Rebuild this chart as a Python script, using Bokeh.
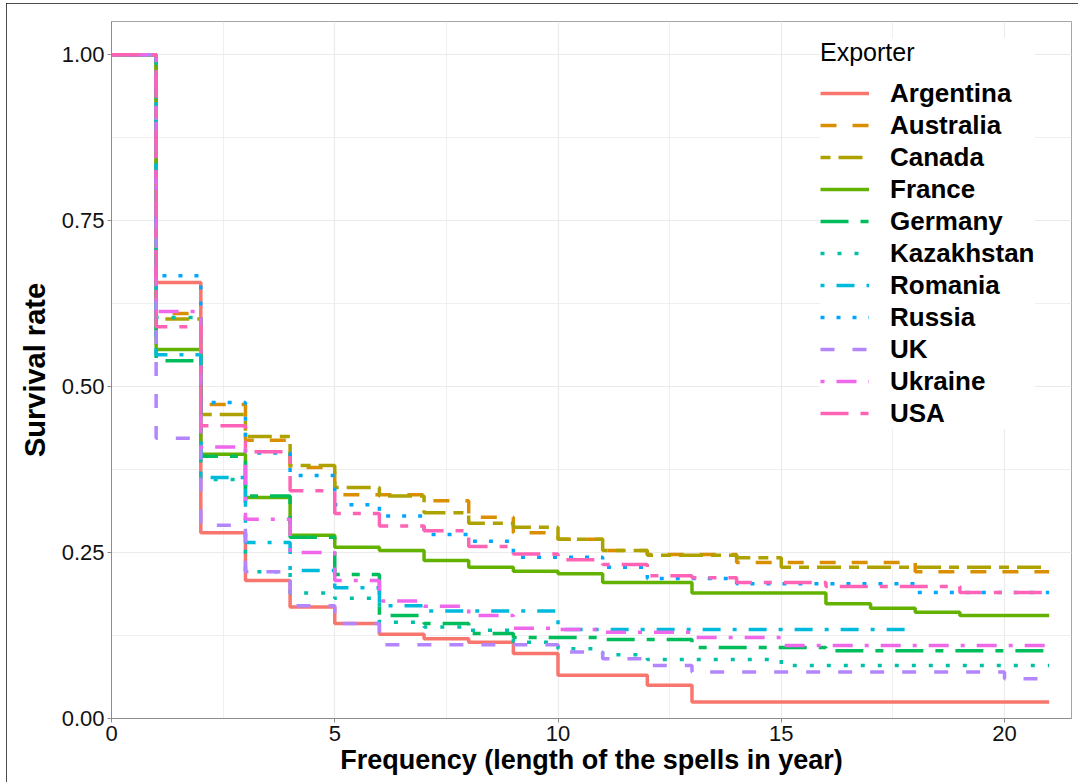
from bokeh.plotting import figure
from bokeh.models import Range1d, SingleIntervalTicker, Legend, LegendItem, NumeralTickFormatter
from bokeh.embed import file_html
from bokeh.resources import INLINE

# Kaplan-Meier style survival of export spells, one value per year interval [t, t+1)
years = list(range(0, 22))

exporters = ["Argentina", "Australia", "Canada", "France", "Germany", "Kazakhstan",
             "Romania", "Russia", "UK", "Ukraine", "USA"]

argentina = [1.0, 0.657, 0.280, 0.208, 0.168, 0.143, 0.127, 0.120, 0.115, 0.098, 0.065,
             0.065, 0.050, 0.025, 0.025, 0.025, 0.025, 0.025, 0.025, 0.025, 0.025]
australia = [1.0, 0.610, 0.473, 0.419, 0.378, 0.337, 0.337, 0.328, 0.303, 0.280, 0.270,
             0.253, 0.247, 0.247, 0.235, 0.235, 0.235, 0.235, 0.221, 0.221, 0.221]
canada = [1.0, 0.602, 0.458, 0.425, 0.381, 0.348, 0.335, 0.310, 0.294, 0.288, 0.270,
          0.253, 0.246, 0.246, 0.242, 0.228, 0.228, 0.228, 0.228, 0.228, 0.228]
france = [1.0, 0.556, 0.398, 0.333, 0.276, 0.258, 0.253, 0.238, 0.228, 0.222, 0.218,
          0.205, 0.205, 0.189, 0.189, 0.189, 0.173, 0.166, 0.160, 0.155, 0.155]
germany = [1.0, 0.539, 0.395, 0.335, 0.273, 0.217, 0.155, 0.143, 0.128, 0.122, 0.122,
           0.119, 0.119, 0.107, 0.107, 0.107, 0.102, 0.102, 0.102, 0.102, 0.102]
kazakhstan = [1.0, 0.604, 0.360, 0.221, 0.189, 0.181, 0.145, 0.138, 0.133, 0.115, 0.105,
              0.096, 0.089, 0.089, 0.089, 0.080, 0.080, 0.080, 0.080, 0.080, 0.080]
romania = [1.0, 0.548, 0.363, 0.265, 0.223, 0.197, 0.170, 0.162, 0.162, 0.162, 0.134,
           0.134, 0.134, 0.134, 0.134, 0.134, 0.134, 0.134]
russia = [1.0, 0.667, 0.476, 0.400, 0.366, 0.322, 0.305, 0.277, 0.267, 0.243, 0.243,
          0.228, 0.211, 0.211, 0.203, 0.203, 0.203, 0.203, 0.190, 0.190, 0.190]
uk = [1.0, 0.422, 0.291, 0.221, 0.170, 0.143, 0.111, 0.111, 0.111, 0.111, 0.100,
      0.090, 0.080, 0.070, 0.070, 0.070, 0.070, 0.070, 0.070, 0.070, 0.060]
ukraine = [1.0, 0.613, 0.409, 0.300, 0.250, 0.208, 0.177, 0.169, 0.155, 0.136, 0.134,
           0.130, 0.130, 0.122, 0.122, 0.110, 0.110, 0.110, 0.110, 0.110, 0.110]
usa = [1.0, 0.590, 0.441, 0.402, 0.343, 0.309, 0.290, 0.283, 0.259, 0.248, 0.239,
       0.232, 0.215, 0.212, 0.205, 0.205, 0.199, 0.199, 0.199, 0.190, 0.190]

series = [argentina, australia, canada, france, germany, kazakhstan,
          romania, russia, uk, ukraine, usa]

colors = ["#F8766D", "#DB8E00", "#AEA200", "#64B200", "#00BD5C", "#00C1A7",
          "#00BADE", "#00A6FF", "#B385FF", "#EF67EB", "#FF63B6"]
dashes = ["solid", "16 16", "10 8 24 8", "solid", "28 12 8 12", "4 13",
          "4 12 18 12", "4 12", "14 18", "4 12 20 12", "28 12 8 12"]

FONT = "Liberation Sans"

p = figure(width=1072, height=779, output_backend="svg", toolbar_location=None,
           x_range=Range1d(0, 21.5), y_range=Range1d(0, 1.05),
           min_border_left=105, min_border_right=7, min_border_top=18, min_border_bottom=64)
p.margin = (3, 0, 0, 6)
p.styles = {"outline": "1.5px solid #111111", "outline-offset": "-1px"}

p.background_fill_color = "white"
p.border_fill_color = "white"
p.outline_line_color = "#a6a6a6"
p.outline_line_width = 1

items = []
for name, vals, col, dash in zip(exporters, series, colors, dashes):
    xs = years[:len(vals) + 1]
    ys = vals + [vals[-1]]
    r = p.step(xs, ys, mode="after", line_color=col, line_width=3.5, line_dash=dash)
    items.append(LegendItem(label=name, renderers=[r]))

# axes
p.xaxis.ticker = SingleIntervalTicker(interval=5, num_minor_ticks=2)
p.yaxis.ticker = SingleIntervalTicker(interval=0.25, num_minor_ticks=2)
p.yaxis.formatter = NumeralTickFormatter(format="0.00")
for ax in (p.xaxis[0], p.yaxis[0]):
    ax.axis_line_color = "#8c8c8c"
    ax.axis_line_width = 1
    ax.major_tick_line_color = "#8c8c8c"
    ax.major_tick_in = 0
    ax.major_tick_out = 4
    ax.minor_tick_line_color = None
    ax.major_label_text_font = FONT
    ax.major_label_text_font_size = "22px"
    ax.major_label_text_color = "#111111"
    ax.axis_label_text_font = FONT
    ax.axis_label_text_font_style = "bold"
    ax.axis_label_text_color = "#000000"
    ax.major_label_standoff = 3

p.xaxis.axis_label = "Frequency (length of the spells in year)"
p.yaxis.axis_label = "Survival rate"
p.xaxis.axis_label_text_font_size = "27px"
p.yaxis.axis_label_text_font_size = "29px"
p.xaxis.axis_label_standoff = 1
p.yaxis.axis_label_standoff = 8

for g in (p.xgrid[0], p.ygrid[0]):
    g.grid_line_color = "#ebebeb"
    g.grid_line_width = 1.2
    g.minor_grid_line_color = "#ebebeb"
    g.minor_grid_line_width = 0.8

legend = Legend(items=items, title="Exporter", location=(709, 289))
legend.title_text_font = FONT
legend.title_text_font_size = "25px"
legend.title_text_font_style = "normal"
legend.title_text_color = "#000000"
legend.title_standoff = 10
legend.label_text_font = FONT
legend.label_text_font_size = "26px"
legend.label_text_font_style = "bold"
legend.label_text_color = "#000000"
legend.glyph_width = 49
legend.glyph_height = 32
legend.label_height = 32
legend.spacing = 0
legend.padding = 10
legend.label_standoff = 21
legend.background_fill_color = "white"
legend.background_fill_alpha = 1
legend.border_line_color = None
p.add_layout(legend)

open("out.html", "w").write(file_html(p, INLINE))
